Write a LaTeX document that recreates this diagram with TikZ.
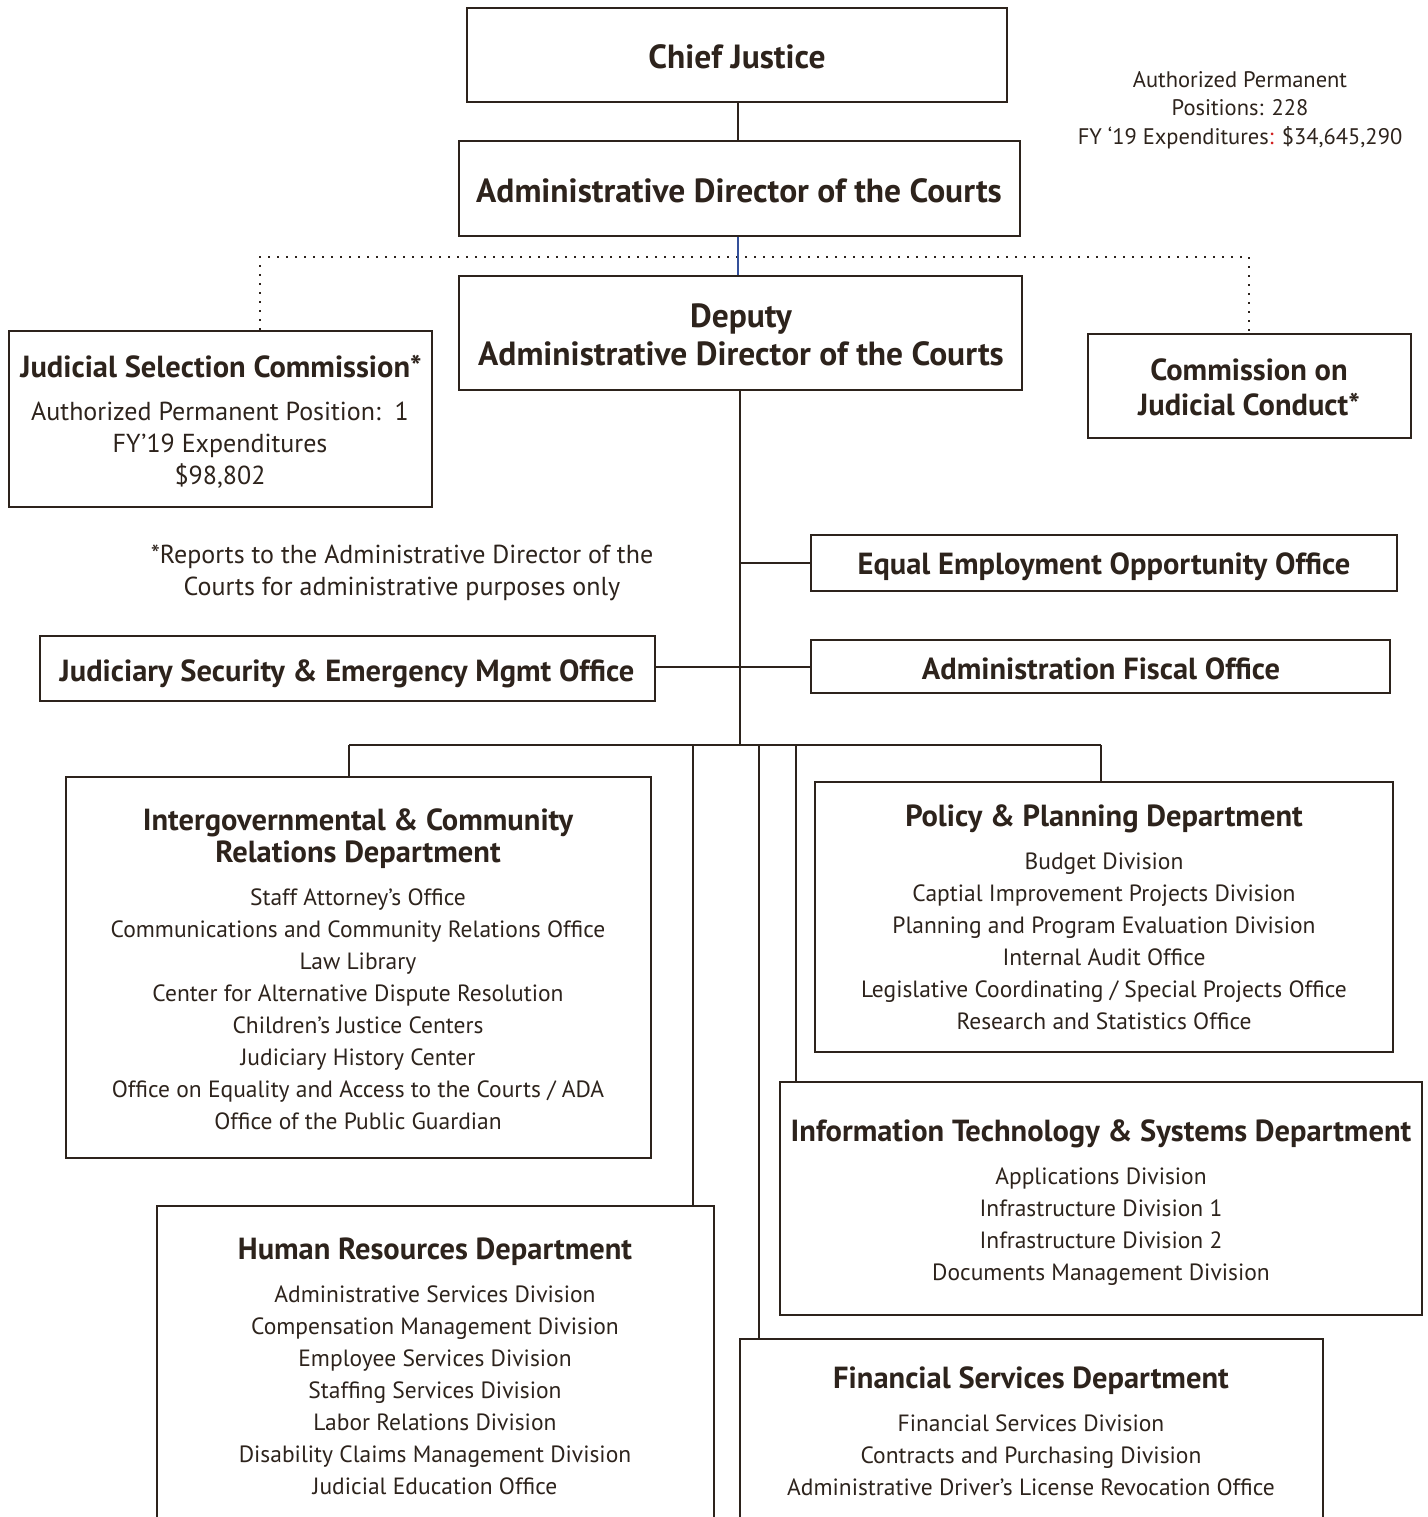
\documentclass[tikz,border=0pt]{standalone}
\usepackage{fontspec}
\setmainfont{PT Sans}
\definecolor{ink}{HTML}{2D231C}
\definecolor{bluel}{HTML}{34509A}
\definecolor{redc}{HTML}{D02020}
\newcommand\bt{\fontsize{30.5}{38}\selectfont\bfseries}
\newcommand\bbt{\fontsize{33.5}{38}\selectfont\bfseries}
\newcommand\rt{\fontsize{23.5}{32}\selectfont}
\newcommand\rbt{\fontsize{26}{32}\selectfont}
\begin{document}
\begin{tikzpicture}[x=1pt,y=-1pt,
  every node/.style={text=ink},
  box/.style={draw=ink,line width=2.6pt,rectangle,inner sep=0pt},
  conn/.style={draw=ink,line width=2.6pt},
  dots/.style={draw=ink,line width=2pt,dash pattern=on 2pt off 7pt},
  ttl/.style={font=\bt,align=center,inner sep=0pt},
  itm/.style={font=\rt,align=center,inner sep=0pt}]
\useasboundingbox (0,0) rectangle (1427,1517);
% boxes
\node[box,minimum width=540pt,minimum height=94pt] (cj) at (737,55) {};
\node[box,minimum width=561pt,minimum height=95pt] (ad) at (739.5,188.5) {};
\node[box,minimum width=563pt,minimum height=114pt] (dep) at (740.5,333) {};
\node[box,minimum width=423pt,minimum height=176pt] (jsc) at (220.5,419) {};
\node[box,minimum width=323pt,minimum height=104pt] (cjc) at (1249.5,386) {};
\node[box,minimum width=586pt,minimum height=56pt] (eeo) at (1104,563) {};
\node[box,minimum width=615pt,minimum height=65pt] (jsem) at (347.5,668.5) {};
\node[box,minimum width=579pt,minimum height=53pt] (afo) at (1100.5,666.5) {};
\node[box,minimum width=585pt,minimum height=381pt] (igr) at (358.5,967.5) {};
\node[box,minimum width=578pt,minimum height=270pt] (pp) at (1104,917) {};
\node[box,minimum width=642pt,minimum height=233pt] (it) at (1101,1198.5) {};
\node[box,minimum width=557pt,minimum height=354pt] (hr) at (435.5,1383) {};
\node[box,minimum width=583pt,minimum height=221pt] (fs) at (1031.5,1449.5) {};
% coordinates
\coordinate (dl) at (260,257);
\coordinate (dr) at (1249,257);
\coordinate (bus) at (740,745);
\coordinate (busl) at (349,745);
\coordinate (busr) at (1101,745);
\coordinate (sy) at (0,667);
% connectors
\draw[conn] (cj.south -| 738,0) -- (ad.north -| 738,0);
\draw[dots] (jsc.north -| dl) -- (dl) -- (dr) -- (cjc.north -| dr);
\draw[draw=bluel,line width=2.2pt] (ad.south -| 738,0) -- (dep.north -| 738,0);
\draw[conn] (dep.south -| bus) -- (bus);
\draw[conn] (eeo.west) -- (eeo.west -| bus);
\draw[conn] (jsem.east |- sy) -- (afo.west |- sy);
\draw[conn] (busl) -- (busr);
\draw[conn] (busl) -- (igr.north -| busl);
\draw[conn] (busr) -- (pp.north -| busr);
\draw[conn] (693,745) -- (hr.north -| 693,0);
\draw[conn] (759,745) -- (fs.north -| 759,0);
\draw[conn] (796,745) -- (it.north -| 796,0);
% texts
\node[ttl,font=\bbt] (cjt) at (737,57) {Chief Justice};
\node[ttl,font=\bbt] (adt) at (739,191) {Administrative Director of the Courts};
\node[ttl,font=\bbt] (dept) at (741,335) {Deputy\\Administrative Director of the Courts};
\node[ttl] (jsct) at (221,367) {Judicial Selection Commission*};
\node[itm,font=\rbt] (jsci) at (220,445) {Authorized Permanent Position:\ \ 1\\FY’19 Expenditures\\\$98,802};
\node[ttl,font=\bt\fontsize{30.5}{35}\selectfont] (cjct) at (1249,387) {Commission on\\Judicial Conduct*};
\node[itm,font=\fontsize{22.5}{28.5}\selectfont] (tot) at (1240,110) {Authorized Permanent\\Positions: 228\\FY ‘19 Expenditures{\color{redc}:} \$34,645,290};
\node[itm,font=\rbt] (note) at (402,573) {*Reports to the Administrative Director of the\\Courts for administrative purposes only};
\node[ttl] (eeot) at (1104,567) {Equal Employment Opportunity Office};
\node[ttl] (jsemt) at (347,674) {Judiciary Security \& Emergency Mgmt Office};
\node[ttl] (afot) at (1101,669) {Administration Fiscal Office};
\node[ttl,font=\bt\fontsize{30.5}{32}\selectfont] (igrt) at (358,839) {Intergovernmental \& Community\\Relations Department};
\node[itm] (igri) at (358,1009) {Staff Attorney’s Office\\Communications and Community Relations Office\\Law Library\\Center for Alternative Dispute Resolution\\Children’s Justice Centers\\Judiciary History Center\\Office on Equality and Access to the Courts / ADA\\Office of the Public Guardian};
\node[ttl] (ppt) at (1104,819) {Policy \& Planning Department};
\node[itm] (ppi) at (1104,941) {Budget Division\\Captial Improvement Projects Division\\Planning and Program Evaluation Division\\Internal Audit Office\\Legislative Coordinating / Special Projects Office\\Research and Statistics Office};
\node[ttl] (itt) at (1101,1134) {Information Technology \& Systems Department};
\node[itm] (iti) at (1101,1227) {Applications Division\\Infrastructure Division 1\\Infrastructure Division 2\\Documents Management Division};
\node[ttl] (hrt) at (435,1252) {Human Resources Department};
\node[itm] (hri) at (435,1390) {Administrative Services Division\\Compensation Management Division\\Employee Services Division\\Staffing Services Division\\Labor Relations Division\\Disability Claims Management Division\\Judicial Education Office};
\node[ttl] (fst) at (1031,1381) {Financial Services Department};
\node[itm] (fsi) at (1031,1455) {Financial Services Division\\Contracts and Purchasing Division\\Administrative Driver’s License Revocation Office};
\end{tikzpicture}
\end{document}
